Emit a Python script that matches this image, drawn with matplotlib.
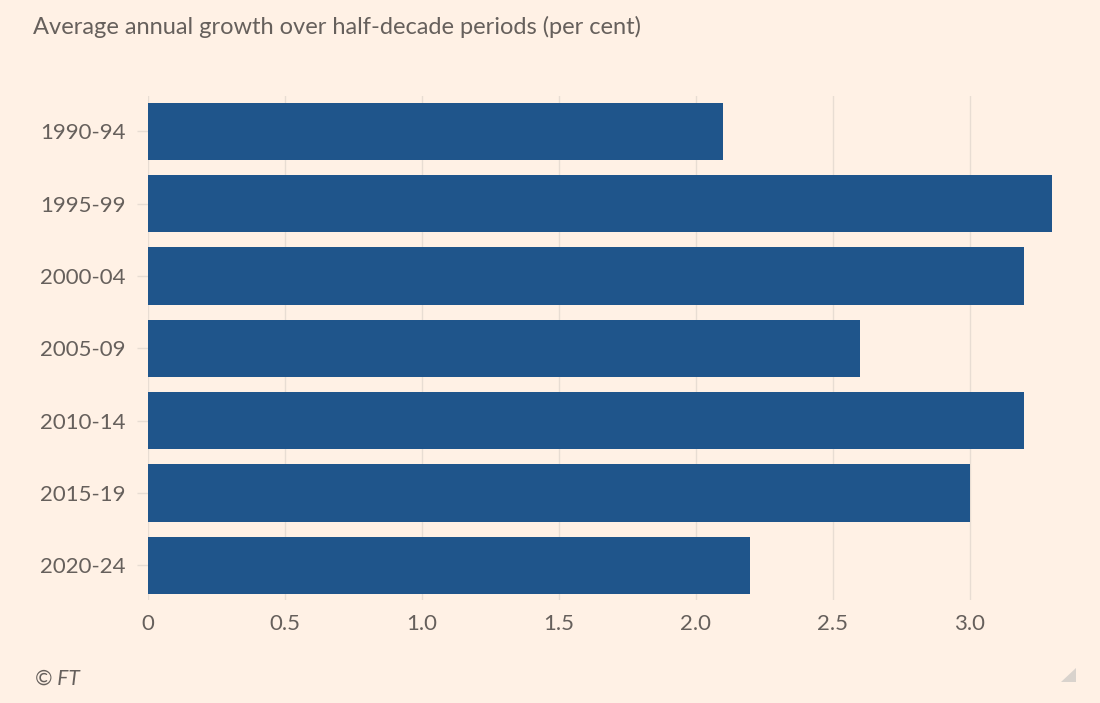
import matplotlib.pyplot as plt
from matplotlib.patches import Polygon

periods = ['1990-94', '1995-99', '2000-04', '2005-09', '2010-14', '2015-19', '2020-24']
growth = [2.1, 3.3, 3.2, 2.6, 3.2, 3.0, 2.2]
xticks = [0, 0.5, 1.0, 1.5, 2.0, 2.5, 3.0]
xtick_labels = ['0', '0.5', '1.0', '1.5', '2.0', '2.5', '3.0']

bg = '#fff1e5'
bar_col = '#1f558b'
txt = '#66605c'
grid_col = '#e8ddd3'

plt.rcParams['font.family'] = ['Lato', 'DejaVu Sans']

fig = plt.figure(figsize=(11, 7.03), dpi=100, facecolor=bg)
ax = fig.add_axes([0.1345, 0.1465, 0.834, 0.717])
ax.set_facecolor(bg)

ax.barh(range(len(periods)), growth, height=0.79, color=bar_col, zorder=2)

ax.set_xlim(0, 3.35)
ax.set_ylim(6.48, -0.49)
ax.set_yticks(range(len(periods)))
ax.set_yticklabels(periods)
ax.set_xticks(xticks)
ax.set_xticklabels(xtick_labels)

for s in ax.spines.values():
    s.set_visible(False)
ax.grid(axis='x', color=grid_col, linewidth=1, zorder=0)
ax.tick_params(axis='x', length=0, pad=10, labelsize=16, labelcolor=txt)
ax.tick_params(axis='y', length=8, width=1, color=grid_col, pad=8,
               labelsize=16, labelcolor=txt)

fig.text(33 / 1100, 1 - 27 / 703, 'Average annual growth over half-decade periods (per cent)',
         fontsize=17, color=txt, va='center', ha='left')
fig.text(35 / 1100, 1 - 679 / 703, '© FT', fontsize=15, color=txt,
         style='italic', va='center', ha='left')

tri = Polygon([(1076 / 1100, 1 - 668 / 703), (1076 / 1100, 1 - 682 / 703),
               (1061 / 1100, 1 - 682 / 703)], closed=True,
              transform=fig.transFigure, facecolor='#d9d3cd', edgecolor='none')
fig.patches.append(tri)

fig.savefig('out.png', dpi=100, facecolor=bg)
